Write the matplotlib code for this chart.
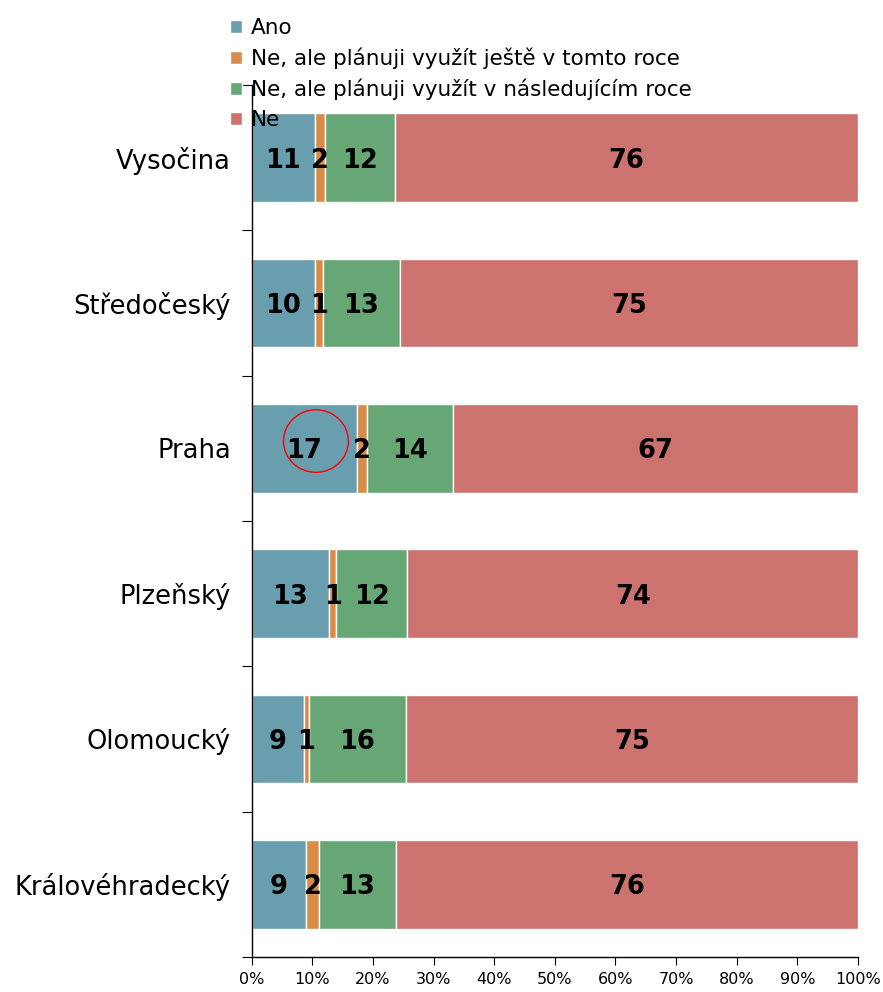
import matplotlib
matplotlib.use('Agg')
import matplotlib.pyplot as plt
from matplotlib.patches import Ellipse
import numpy as np

plt.rcParams['font.family'] = ['DejaVu Sans']

# regions, top to bottom
regions = ['Vysočina', 'Středočeský', 'Praha', 'Plzeňský', 'Olomoucký', 'Královéhradecký']
series = ['Ano',
          'Ne, ale plánuji využít ještě v tomto roce',
          'Ne, ale plánuji využít v následujícím roce',
          'Ne']
colors = ['#689EAE', '#D88C48', '#67A776', '#CC7370']

# segment widths in percent
ano = [10.4, 10.4, 17.4, 12.8, 8.6, 9.0]
tento_rok = [1.7, 1.3, 1.7, 1.1, 0.8, 2.1]
pristi_rok = [11.6, 12.8, 14.1, 11.8, 16.0, 12.7]
ne = [76.3, 75.5, 66.8, 74.3, 74.6, 76.2]

# printed labels
ano_lbl = [11, 10, 17, 13, 9, 9]
tento_lbl = [2, 1, 2, 1, 1, 2]
pristi_lbl = [12, 13, 14, 12, 16, 13]
ne_lbl = [76, 75, 67, 74, 75, 76]

values = [ano, tento_rok, pristi_rok, ne]
labels = [ano_lbl, tento_lbl, pristi_lbl, ne_lbl]

fig = plt.figure(figsize=(8.83, 9.92), dpi=100)
ax = fig.add_axes([0.285, 0.0353, 0.6867, 0.879])

y = np.arange(len(regions))
left = np.zeros(len(regions))
for vals, lbls, name, col in zip(values, labels, series, colors):
    vals = np.array(vals)
    ax.barh(y, vals, left=left, height=0.61, color=col, edgecolor='white',
            linewidth=1, label=name)
    for yi, l, v, t in zip(y, left, vals, lbls):
        ax.text(l + v / 2, yi + 0.02, str(t), ha='center', va='center',
                fontsize=18.5, fontweight='bold', color='black')
    left = left + vals

# red circle around Praha's first value
pi = regions.index('Praha')
ax.add_patch(Ellipse((ano[pi] / 2 + 1.9, pi - 0.05), 10.7, 0.43,
                     fill=False, edgecolor='red', linewidth=1, zorder=5))

ax.set_xlim(0, 100)
ax.set_ylim(len(regions) - 0.5, -0.5)
ax.set_yticks(y)
ax.set_yticklabels(regions, fontsize=18.5)
ax.set_yticks(np.arange(-0.5, len(regions)), minor=True)
ax.tick_params(axis='y', which='major', length=0, pad=15)
ax.tick_params(axis='y', which='minor', length=7, width=0.8)
ax.set_xticks(np.arange(0, 101, 10))
ax.set_xticklabels([f'{v}%' for v in range(0, 101, 10)], fontsize=11.5)
ax.tick_params(axis='x', length=6, width=0.8, pad=5)

for s in ['top', 'right']:
    ax.spines[s].set_visible(False)
ax.spines['left'].set_linewidth(1)
ax.spines['bottom'].set_linewidth(1)

fig.legend(loc='upper left', bbox_to_anchor=(0.261, 0.982), frameon=False,
           fontsize=15.5, handlelength=0.55, handleheight=0.55, handletextpad=0.4,
           labelspacing=0.45, borderpad=0, borderaxespad=0)

fig.savefig('out.png', dpi=100)
